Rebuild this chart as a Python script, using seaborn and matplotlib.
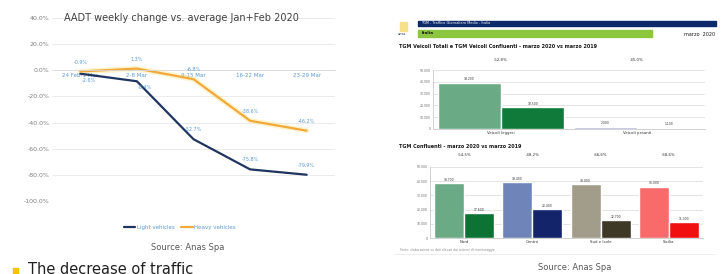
import numpy as np
import pandas as pd
import matplotlib
matplotlib.use("Agg")
import matplotlib.pyplot as plt
import seaborn as sns
from matplotlib.patches import Rectangle
from matplotlib.lines import Line2D

# ---- left chart data (AADT weekly change, %) ----
weeks = ["24 Feb-1 Mar", "2-8 Mar", "9-15 Mar", "16-22 Mar", "23-29 Mar"]
light_vehicles = [-2.6, -8.4, -52.7, -75.8, -79.9]
heavy_vehicles = [-0.9, 1.3, -6.8, -38.6, -46.2]
y_ticks = [40, 20, 0, -20, -40, -60, -80, -100]

# ---- right chart data (TGM, marzo 2019 vs marzo 2020) ----
tot_groups = ["Veicoli leggeri", "Veicoli pesanti"]
tot_2019 = [39200, 2000]
tot_2020 = [18500, 1100]
tot_change = ["-52,8%", "-45,0%"]

conf_groups = ["Nord", "Centro", "Sud e Isole", "Sicilia"]
conf_2019 = [38700, 39400, 38000, 36000]
conf_2020 = [17600, 20400, 12700, 11300]
conf_change = ["-54,5%", "-48,2%", "-66,6%", "-68,6%"]

bar_ticks = [0, 10000, 20000, 30000, 40000, 50000]

sns.set_theme(style="white")
plt.rcParams["font.family"] = ["DejaVu Sans"]

fig = plt.figure(figsize=(7.23, 2.74), dpi=100)
fig.patch.set_facecolor("white")

NAVY = "#1f3560"
ORANGE = "#f2a93b"
BLUE_TXT = "#5b9bd5"

# ================= left: line chart =================
ax = fig.add_axes([0.0719, 0.2664, 0.3914, 0.6679])
df = pd.DataFrame({"week": weeks * 2,
                   "change": light_vehicles + heavy_vehicles,
                   "type": ["Light vehicles"] * len(weeks) + ["Heavy vehicles"] * len(weeks)})

# soft glow behind the heavy line
sns.lineplot(data=df[df["type"] == "Heavy vehicles"], x="week", y="change",
             color="#ffe27a", linewidth=4, alpha=0.35, ax=ax, legend=False)
sns.lineplot(data=df, x="week", y="change", hue="type",
             palette={"Light vehicles": NAVY, "Heavy vehicles": ORANGE},
             linewidth=1.6, ax=ax, legend=False)

# heavy labels above; light labels above except the first two weeks (below the line)
for i, v in enumerate(heavy_vehicles):
    ax.annotate(f"{v:.1f}%", (i, v), xytext=(0, 5), textcoords="offset points",
                ha="center", va="bottom", fontsize=3.5, color=BLUE_TXT)
for i, v in enumerate(light_vehicles):
    below = i < 2
    ax.annotate(f"{v:.1f}%", (i, v), xytext=(6 if below else 0, -3 if below else 5),
                textcoords="offset points", ha="center",
                va="top" if below else "bottom", fontsize=3.5, color=BLUE_TXT)

ax.set_xlim(-0.5, len(weeks) - 0.5)
ax.set_ylim(-100, 40)
ax.set_yticks(y_ticks)
ax.set_yticklabels([f"{t:.1f}%" for t in y_ticks], fontsize=4.5, color="#7f7f7f")
ax.yaxis.grid(True, color="#e8e8e8", linewidth=0.6)
ax.set_xlabel("")
ax.set_ylabel("")
for s in ["top", "right", "left"]:
    ax.spines[s].set_visible(False)
ax.spines["bottom"].set_position(("data", 0))
ax.spines["bottom"].set_color("#d9d9d9")
ax.spines["bottom"].set_linewidth(0.6)
ax.tick_params(axis="both", length=0, pad=2)
ax.set_xticks(range(len(weeks)))
ax.set_xticklabels(weeks, fontsize=4, color=BLUE_TXT)
ax.set_facecolor("white")

fig.text(0.251, 0.934, "AADT weekly change vs. average Jan+Feb 2020",
         ha="center", va="center", fontsize=7, color="#404040")

handles = [Line2D([], [], color=NAVY, lw=1.6), Line2D([], [], color=ORANGE, lw=1.6)]
leg = fig.legend(handles, ["Light vehicles", "Heavy vehicles"], loc="center",
                 bbox_to_anchor=(0.249, 1 - 227 / 274), ncol=2, frameon=False,
                 fontsize=4, handlelength=2, columnspacing=1.2, handletextpad=0.3)
for t in leg.get_texts():
    t.set_color(BLUE_TXT)

fig.text(0.260, 1 - 248 / 274, "Source: Anas Spa", ha="center", va="center",
         fontsize=6, color="#595959")
fig.patches.append(Rectangle((13 / 723, 1 - 274 / 274), 5 / 723, 6 / 274,
                             transform=fig.transFigure, color="#f5c400"))
fig.text(28 / 723, 1 - 262 / 274, "The decrease of traffic", ha="left", va="top",
         fontsize=10.5, color="#202020")

# ================= right: bar chart screenshot =================
fig.patches.append(Rectangle((418 / 723, 1 - 26 / 274), 298 / 723, 5 / 274,
                             transform=fig.transFigure, color="#0d2a6b"))
fig.patches.append(Rectangle((418 / 723, 1 - 37 / 274), 234 / 723, 7 / 274,
                             transform=fig.transFigure, color="#8cc63f"))
fig.patches.append(Rectangle((400 / 723, 1 - 31 / 274), 7 / 723, 9 / 274,
                             transform=fig.transFigure, color="#f7e08a"))
fig.text(398 / 723, 1 - 34 / 274, "anas", fontsize=2.5, color="#1f3560", va="center")
fig.text(421 / 723, 1 - 23.5 / 274, "TGM - Traffico Giornaliero Medio - Italia",
         fontsize=2.5, color="white", va="center")
fig.text(422 / 723, 1 - 33.5 / 274, "Italia", fontsize=3, color="#1a1a1a",
         va="center", weight="bold")
fig.text(715 / 723, 1 - 34 / 274, "marzo  2020", fontsize=3.5, color="#1a1a1a",
         va="center", ha="right")
fig.text(399 / 723, 1 - 46 / 274,
         "TGM Veicoli Totali e TGM Veicoli Confluenti - marzo 2020 vs marzo 2019",
         fontsize=3.5, color="#1a1a1a", va="center", weight="bold")
fig.text(399 / 723, 1 - 146 / 274, "TGM Confluenti - marzo 2020 vs marzo 2019",
         fontsize=3.5, color="#1a1a1a", va="center", weight="bold")


def bar_panel(rect, groups, v19, v20, changes, light_cols, dark_cols, width, top_y):
    bx = fig.add_axes(rect)
    d = pd.DataFrame({"group": groups * 2, "value": v19 + v20,
                      "year": ["marzo 2019"] * len(groups) + ["marzo 2020"] * len(groups)})
    sns.barplot(data=d, x="group", y="value", hue="year", width=width,
                palette=["#999999", "#333333"], ax=bx, legend=False, saturation=1)
    for patch, c in zip(bx.containers[0], light_cols):
        patch.set_facecolor(c)
    for patch, c in zip(bx.containers[1], dark_cols):
        patch.set_facecolor(c)
    for cont in bx.containers:
        bx.bar_label(cont, labels=[f"{int(p.get_height()):,}".replace(",", ".") for p in cont],
                     fontsize=2.2, color="#333333", padding=1)
    for i, txt in enumerate(changes):
        bx.text(i, top_y, txt, transform=bx.get_xaxis_transform(), ha="center",
                va="center", fontsize=2.8, color="#333333")
    bx.set_ylim(0, 50000)
    bx.set_yticks(bar_ticks)
    bx.set_yticklabels([f"{t:,}".replace(",", ".") for t in bar_ticks],
                       fontsize=2.2, color="#666666")
    bx.yaxis.grid(True, color="#d9d9d9", linewidth=0.5)
    bx.set_axisbelow(True)
    bx.set_xlabel("")
    bx.set_ylabel("")
    bx.tick_params(axis="both", length=0, pad=1.5)
    bx.set_xticks(range(len(groups)))
    bx.set_xticklabels(groups, fontsize=2.8, color="#333333")
    for s in ["top", "right"]:
        bx.spines[s].set_visible(False)
    bx.spines["left"].set_color("#bfbfbf")
    bx.spines["bottom"].set_color("#bfbfbf")
    bx.spines["left"].set_linewidth(0.5)
    bx.spines["bottom"].set_linewidth(0.5)
    return bx


bar_panel([433 / 723, 1 - 129 / 274, 272 / 723, 59 / 274], tot_groups, tot_2019, tot_2020,
          tot_change, ["#6aab86", "#a9acd6"], ["#0f7a3a", "#1f2a6b"], 0.93, 1.17)
bar_panel([430 / 723, 1 - 238 / 274, 273 / 723, 71 / 274], conf_groups, conf_2019, conf_2020,
          conf_change, ["#6aab86", "#6f84b8", "#a29d8a", "#f96b6b"],
          ["#0d7335", "#14246a", "#3e3826", "#f01010"], 0.88, 1.17)

fig.text(400 / 723, 1 - 250 / 274, "Fonte: elaborazione su dati rilevati dai sistemi di monitoraggio",
         fontsize=2.2, color="#8c8c8c", va="center")
fig.lines.append(Line2D([395 / 723, 715 / 723], [1 - 254 / 274, 1 - 254 / 274],
                        transform=fig.transFigure, color="#e6e6e6", lw=0.5))
fig.text(575 / 723, 1 - 268 / 274, "Source: Anas Spa", ha="center", va="center",
         fontsize=6, color="#595959")

fig.savefig("out.png", dpi=100, facecolor="white")
